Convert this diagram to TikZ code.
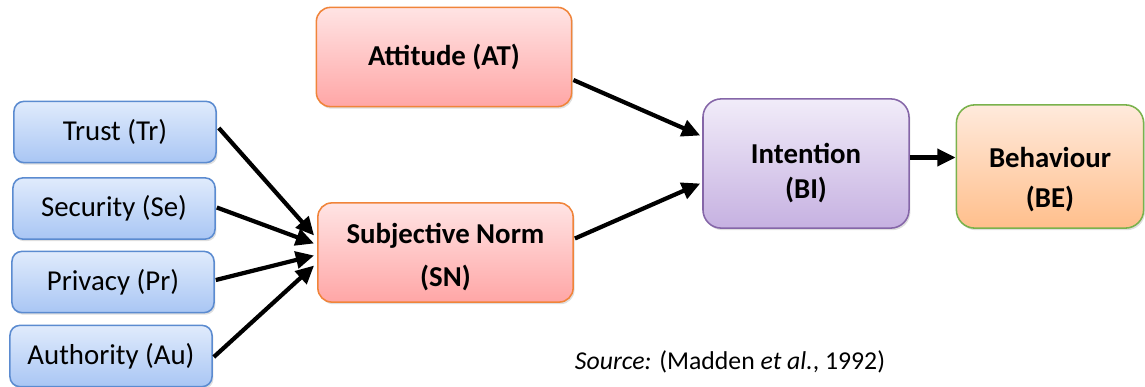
\documentclass[tikz,border=0pt]{standalone}
\usepackage{fontspec}
\setmainfont{Carlito}
\usetikzlibrary{arrows.meta,calc,shadows}

\begin{document}
\begin{tikzpicture}[x=0.025cm,y=-0.025cm,
	every node/.style={align=center,font=\fontsize{20.5}{26}\selectfont},
	factor/.style={draw=blueline,line width=1.1pt,rounded corners=7pt,top color=bluetop,bottom color=bluebot,
		drop shadow={shadow xshift=1pt,shadow yshift=-1.5pt,opacity=0.25},minimum width=5.05cm,minimum height=1.53cm},
	construct/.style={draw=pinkline,line width=1.1pt,rounded corners=10pt,top color=pinktop,bottom color=pinkbot,
		drop shadow={shadow xshift=1pt,shadow yshift=-1.5pt,opacity=0.25},minimum width=6.38cm,minimum height=2.48cm,
		font=\fontsize{20.5}{27.5}\selectfont\bfseries},
	link/.style={line width=3pt,-{Triangle[length=13pt,width=12pt]}}]
	\definecolor{bluetop}{HTML}{E0EBFC}
	\definecolor{bluebot}{HTML}{A9C6F4}
	\definecolor{blueline}{HTML}{5B8BD0}
	\definecolor{pinktop}{HTML}{FFE4E4}
	\definecolor{pinkbot}{HTML}{FFA6A6}
	\definecolor{pinkline}{HTML}{F0843A}
	\definecolor{purpletop}{HTML}{F1ECF9}
	\definecolor{purplebot}{HTML}{C6B1E1}
	\definecolor{purpleline}{HTML}{8566A8}
	\definecolor{orangetop}{HTML}{FFEADC}
	\definecolor{orangebot}{HTML}{FFBF8C}
	\definecolor{greenline}{HTML}{7AB24C}
	\useasboundingbox (0,0) rectangle (1145,387);
	% factors
	\node[factor] (trust) at (115,132) {Trust (Tr)};
	\node[factor] (security) at (114,208.5) {Security (Se)};
	\node[factor] (privacy) at (113,282) {Privacy (Pr)};
	\node[factor] (authority) at (111,356) {Authority (Au)};
	% attitude and norm
	\node[construct] (attitude) at (444,57) {Attitude (AT)};
	\node[construct] (norm) at (445.5,252.5) {\raisebox{-3.5pt}[\height][\depth]{\begin{tabular}{@{}c@{}}Subjective Norm\\[3pt](SN)\end{tabular}}};
	% intention and behaviour
	\node[draw=purpleline,line width=1.1pt,rounded corners=13pt,top color=purpletop,bottom color=purplebot,
		drop shadow={shadow xshift=1pt,shadow yshift=-1.5pt,opacity=0.25},minimum width=5.15cm,minimum height=3.23cm,
		font=\fontsize{20.5}{25}\selectfont\bfseries] (intention) at (806,163.5)
		{\raisebox{-7.5pt}[\height][\depth]{\begin{tabular}{@{}c@{}}Intention\\(BI)\end{tabular}}};
	\node[draw=greenline,line width=1.1pt,rounded corners=13pt,top color=orangetop,bottom color=orangebot,
		drop shadow={shadow xshift=1pt,shadow yshift=-1.5pt,opacity=0.25},minimum width=4.68cm,minimum height=3.08cm,
		font=\fontsize{20.5}{27}\selectfont\bfseries] (behaviour) at (1050,166.5)
		{\raisebox{-9.5pt}[\height][\depth]{\begin{tabular}{@{}c@{}}Behaviour\\[1.5pt](BE)\end{tabular}}};
	% arrows
	\draw[link] ($(trust.east)+(2,-4)$) -- ($(norm.west)+(-3,-17)$);
	\draw[link] ($(security.east)+(1,-1)$) -- ($(norm.west)+(-3,-9)$);
	\draw[link] ($(privacy.east)+(1,-2)$) -- ($(norm.west)+(-3,3)$);
	\draw[link] ($(authority.east)+(1,1)$) -- ($(norm.west)+(-3,13)$);
	\draw[link] ($(attitude.east)+(1,23)$) -- ($(intention.west)+(-2,-28)$);
	\draw[link] ($(norm.east)+(1,-14)$) -- ($(intention.west)+(-2,20)$);
	\coordinate (ib) at ($(intention.east)+(0,-6)$);
	\draw[link] (ib) -- (ib -| behaviour.west);
	% source
	\node[font=\fontsize{18.3}{22}\selectfont] (source) at (730,362) {\textit{Source:} (Madden \textit{et al.}, 1992)};
\end{tikzpicture}
\end{document}
